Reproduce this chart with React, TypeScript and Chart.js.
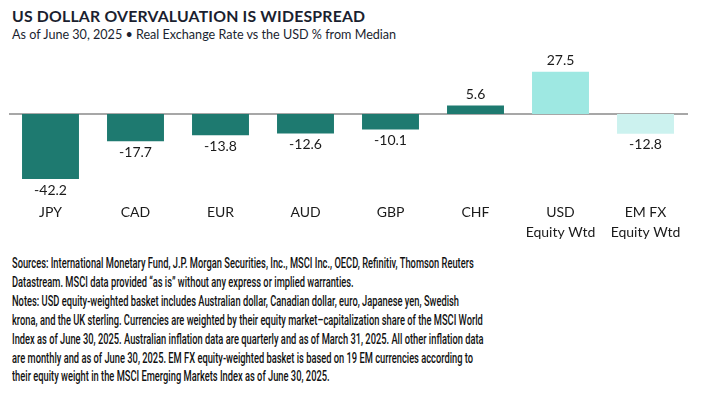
import React, { useEffect, useRef, useState } from "react";
import { Chart, registerables } from "chart.js";

Chart.register(...registerables);

const categories: (string | string[])[] = ["JPY", "CAD", "EUR", "AUD", "GBP", "CHF", ["USD", "Equity Wtd"], ["EM FX", "Equity Wtd"]];
const values: number[] = [-42.2, -17.7, -13.8, -12.6, -10.1, 5.6, 27.5, -12.8];
const barColors: string[] = ["#1e7a70", "#1e7a70", "#1e7a70", "#1e7a70", "#1e7a70", "#1e7a70", "#9ee8e2", "#ccf2ef"];

const titleText = "US DOLLAR OVERVALUATION IS WIDESPREAD";
const subtitleText = "As of June 30, 2025 \u2022 Real Exchange Rate vs the USD % from Median";
const noteLines: string[] = [
  "Sources: International Monetary Fund, J.P. Morgan Securities, Inc., MSCI Inc., OECD, Refinitiv, Thomson Reuters",
  "Datastream. MSCI data provided \u201cas is\u201d without any express or implied warranties.",
  "Notes: USD equity-weighted basket includes Australian dollar, Canadian dollar, euro, Japanese yen, Swedish",
  "krona, and the UK sterling. Currencies are weighted by their equity market\u2013capitalization share of the MSCI World",
  "Index as of June 30, 2025. Australian inflation data are quarterly and as of March 31, 2025. All other inflation data",
  "are monthly and as of June 30, 2025. EM FX equity-weighted basket is based on 19 EM currencies according to",
  "their equity weight in the MSCI Emerging Markets Index as of June 30, 2025.",
];

const NOTE_FONT = "Roboto, 'Open Sans', sans-serif";
const NOTE_SIZE = 14;
const NOTE_WEIGHT = 500;
const NOTE_TARGET_WIDTH = 462;
const LABEL_FONT = "Lato, 'Open Sans', sans-serif";

const valueLabelPlugin = {
  id: "valueLabels",
  afterDatasetsDraw(chart: any) {
    const ctx = chart.ctx;
    const meta = chart.getDatasetMeta(0);
    const data = chart.data.datasets[0].data as number[];
    ctx.save();
    ctx.font = "14px " + LABEL_FONT;
    ctx.fillStyle = "#1a1a1a";
    ctx.textAlign = "center";
    ctx.textBaseline = "middle";
    meta.data.forEach((el: any, i: number) => {
      const v = data[i];
      const y = v >= 0 ? el.y - 11 : el.y + 11;
      ctx.fillText(v.toFixed(1), el.x, y);
    });
    ctx.restore();
  },
};

const zeroLinePlugin = {
  id: "zeroLine",
  beforeDatasetsDraw(chart: any) {
    const { ctx, chartArea, scales } = chart;
    const y0 = scales.y.getPixelForValue(0);
    ctx.save();
    ctx.strokeStyle = "#8a8a8a";
    ctx.lineWidth = 1.5;
    ctx.beginPath();
    ctx.moveTo(chartArea.left + 1, y0);
    ctx.lineTo(chartArea.right, y0);
    ctx.stroke();
    ctx.restore();
  },
};

export default function App() {
  const canvasRef = useRef<HTMLCanvasElement | null>(null);
  const [noteScale, setNoteScale] = useState(1);

  useEffect(() => {
    const c = document.createElement("canvas");
    const cx = c.getContext("2d");
    if (cx) {
      cx.font = NOTE_WEIGHT + " " + NOTE_SIZE + "px " + NOTE_FONT;
      const w = cx.measureText(noteLines[0]).width;
      if (w > 0) setNoteScale(NOTE_TARGET_WIDTH / w);
    }
  }, []);

  useEffect(() => {
    if (!canvasRef.current) return;
    const chart = new Chart(canvasRef.current, {
      type: "bar",
      data: {
        labels: categories,
        datasets: [
          {
            data: values,
            backgroundColor: barColors,
            borderWidth: 0,
            categoryPercentage: 0.67,
            barPercentage: 1,
          },
        ],
      },
      options: {
        animation: false,
        responsive: false,
        maintainAspectRatio: false,
        layout: { padding: { left: 8, right: 32, top: 50, bottom: 0 } },
        plugins: { legend: { display: false }, tooltip: { enabled: false } },
        scales: {
          x: {
            grid: { display: false, drawTicks: false },
            border: { display: false },
            afterFit: (scale: any) => {
              scale.height = 50;
            },
            ticks: {
              color: "#1a1a1a",
              font: { family: LABEL_FONT, size: 14, lineHeight: 1.43 },
              padding: 7,
              maxRotation: 0,
              autoSkip: false,
            },
          },
          y: {
            display: false,
            min: -52.6,
            max: 41.6,
          },
        },
      },
      plugins: [zeroLinePlugin, valueLabelPlugin],
    });
    return () => chart.destroy();
  }, []);

  return (
    <div style={{ position: "fixed", left: 0, top: 0, width: 720, height: 398, background: "#fff", overflow: "hidden" }}>
      <div style={{ position: "absolute", left: 12, top: 6, fontFamily: "Lato, 'Open Sans', sans-serif", fontWeight: 700, fontSize: 15.8, color: "#1b1f30", whiteSpace: "nowrap", letterSpacing: 0.2 }}>
        {titleText}
      </div>
      <div style={{ position: "absolute", left: 12, top: 27, fontFamily: "Lato, 'Open Sans', sans-serif", fontSize: 12.6, color: "#1b1f30", whiteSpace: "nowrap" }}>
        {subtitleText}
      </div>
      <canvas ref={canvasRef} width={720} height={245} style={{ position: "absolute", left: 0, top: 0, width: 720, height: 245 }} />
      <div
        style={{
          position: "absolute",
          left: 12,
          top: 254,
          fontFamily: NOTE_FONT,
          fontSize: NOTE_SIZE,
          fontWeight: NOTE_WEIGHT,
          lineHeight: "18.9px",
          color: "#111",
          transform: `scaleX(${noteScale})`,
          transformOrigin: "0 0",
        }}
      >
        {noteLines.map((l, i) => (
          <div key={i} style={{ whiteSpace: "nowrap" }}>{l}</div>
        ))}
      </div>
    </div>
  );
}
